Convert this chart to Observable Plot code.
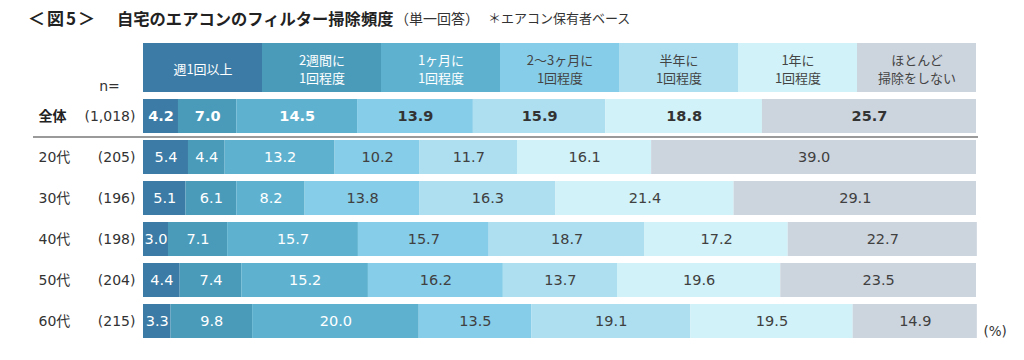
<!DOCTYPE html>
<html>
<head>
<meta charset="utf-8">
<script src="https://cdn.jsdelivr.net/npm/d3@7"></script>
<script src="https://cdn.jsdelivr.net/npm/@observablehq/plot@0.6"></script>
<style>
  html, body { margin: 0; padding: 0; background: #fff; }
  body { width: 1024px; height: 360px; overflow: hidden; font-family: "DejaVu Sans", "Noto Sans CJK JP", sans-serif; color: #333; }
  #title { position: relative; height: 36px; }
  #title span { position: absolute; top: 0; line-height: 36px; white-space: nowrap; font-family: "Noto Sans CJK JP", sans-serif; color: #222; }
  #title .fig { left: 28px; font-size: 17px; font-weight: bold; letter-spacing: 2px; }
  #title .main { left: 117px; font-size: 16.3px; font-weight: bold; }
  #title .sub { left: 395px; font-size: 14px; color: #333; }
  #title .note { left: 488px; font-size: 13px; color: #333; }
  #chart svg { display: block; }
</style>
</head>
<body>
<div id="title"><span class="fig">＜図5＞</span><span class="main">自宅のエアコンのフィルター掃除頻度</span><span class="sub">（単一回答）</span><span class="note">＊エアコン保有者ベース</span></div>
<div id="chart"></div>
<script>
// ---- data ----
const categories = ["週1回以上", "2週間に\n1回程度", "1ヶ月に\n1回程度", "2〜3ヶ月に\n1回程度", "半年に\n1回程度", "1年に\n1回程度", "ほとんど\n掃除をしない"];
const colors = ["#3b7ba5", "#4a9bba", "#5eb2d0", "#86cde9", "#addff1", "#d0f2f8", "#ccd4de"];
const groups = ["全体", "20代", "30代", "40代", "50代", "60代"];
const sampleSizes = ["(1,018)", "(205)", "(196)", "(198)", "(204)", "(215)"];
const total = [4.2, 7.0, 14.5, 13.9, 15.9, 18.8, 25.7];
const age20 = [5.4, 4.4, 13.2, 10.2, 11.7, 16.1, 39.0];
const age30 = [5.1, 6.1, 8.2, 13.8, 16.3, 21.4, 29.1];
const age40 = [3.0, 7.1, 15.7, 15.7, 18.7, 17.2, 22.7];
const age50 = [4.4, 7.4, 15.2, 16.2, 13.7, 19.6, 23.5];
const age60 = [3.3, 9.8, 20.0, 13.5, 19.1, 19.5, 14.9];
const seriesByGroup = [total, age20, age30, age40, age50, age60];
const lightTextCount = 3; // first three categories carry white text

// ---- build tables ----
const HDR = "hdr";
const rows = [];
groups.forEach((g, gi) => {
  seriesByGroup[gi].forEach((v, ci) => rows.push({group: g, cat: categories[ci], ci, value: v}));
});
const totalRows = rows.filter(d => d.group === "全体");
const ageRows = rows.filter(d => d.group !== "全体");
const headerRows = categories.map((c, ci) => ({cat: c, ci, share: 100 / categories.length}));
const labelRows = groups.map((g, i) => ({group: g, n: sampleSizes[i]}));
const fmt = d3.format(".1f");
const light = d => d.ci < lightTextCount;

const numFont = "DejaVu Sans, Noto Sans CJK JP, sans-serif";
const jpFont = "Noto Sans CJK JP, sans-serif";

const chart = Plot.plot({
  width: 1024,
  height: 324,
  marginLeft: 143,
  marginRight: 48,
  marginTop: 15,
  marginBottom: 15,
  style: {fontFamily: numFont, background: "white"},
  x: {domain: [0, 100], axis: null},
  y: {domain: [HDR, ...groups], padding: 0.17, axis: null},
  color: {type: "ordinal", domain: categories, range: colors},
  marks: [
    // header row (equal widths)
    Plot.barX(headerRows, Plot.stackX({x: "share", y: () => HDR, fill: "cat", insetTop: -15})),
    Plot.text(headerRows, Plot.stackX({x: "share", y: () => HDR, text: d => light(d) ? d.cat : null, fill: "white", fontSize: 13, lineHeight: 1.45, dy: -7.5, fontFamily: jpFont})),
    Plot.text(headerRows, Plot.stackX({x: "share", y: () => HDR, text: d => light(d) ? null : d.cat, fill: "#444", fontSize: 13, lineHeight: 1.45, dy: -7.5, fontFamily: jpFont})),
    Plot.text(["n="], {frameAnchor: "left", y: () => HDR, text: d => d, dx: -34, dy: 11, textAnchor: "middle", fontSize: 14, fill: "#333"}),
    // bars
    Plot.barX(rows, Plot.stackX({x: "value", y: "group", fill: "cat"})),
    // total labels (bold)
    Plot.text(totalRows, Plot.stackX({x: "value", y: "group", text: d => light(d) ? fmt(d.value) : null, fill: "white", fontWeight: "bold", fontSize: 14.5})),
    Plot.text(totalRows, Plot.stackX({x: "value", y: "group", text: d => light(d) ? null : fmt(d.value), fill: "#333", fontWeight: "bold", fontSize: 14.5})),
    // age labels
    Plot.text(ageRows, Plot.stackX({x: "value", y: "group", text: d => light(d) ? fmt(d.value) : null, fill: "white", fontSize: 14.5})),
    Plot.text(ageRows, Plot.stackX({x: "value", y: "group", text: d => light(d) ? null : fmt(d.value), fill: "#404040", fontSize: 14.5})),
    // divider between total and age groups
    Plot.ruleY(["20代"], {y: d => d, dy: -20.5, stroke: "#9a9a9a", strokeWidth: 2, insetLeft: -110, insetRight: -2}),
    // left labels
    Plot.text(labelRows.filter(d => d.group === "全体"), {frameAnchor: "left", y: "group", text: "group", dx: -105, textAnchor: "start", fontWeight: "bold", fontSize: 14, fill: "#222"}),
    Plot.text(labelRows.filter(d => d.group !== "全体"), {frameAnchor: "left", y: "group", text: "group", dx: -105, textAnchor: "start", fontSize: 14, fill: "#333"}),
    Plot.text(labelRows, {frameAnchor: "left", y: "group", text: "n", dx: -8, textAnchor: "end", fontSize: 14, fill: "#333"}),
    // unit
    Plot.text(["(%)"], {frameAnchor: "right", y: () => "60代", text: d => d, dx: 7, dy: 10, textAnchor: "start", fontSize: 13.5, fill: "#333"})
  ]
});
document.getElementById("chart").appendChild(chart);
</script>
</body>
</html>
